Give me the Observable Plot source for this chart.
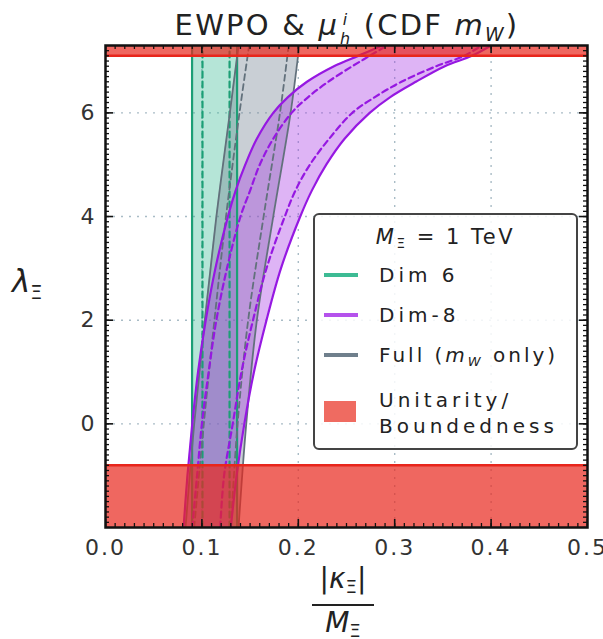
<!DOCTYPE html>
<html>
<head>
<meta charset="utf-8">
<script src="https://cdn.jsdelivr.net/npm/d3@7"></script>
<script src="https://cdn.jsdelivr.net/npm/@observablehq/plot@0.6"></script>
<style>
  body { margin: 0; background: #fff; font-family: "DejaVu Sans", sans-serif; }
  #wrap { position: relative; width: 603px; height: 639px; overflow: hidden; }
  #wrap svg { position: absolute; left: 0; top: 0; }
  .abs { position: absolute; white-space: nowrap; color: #222; }
  .title { left: 0; width: 694px; top: 11px; text-align: center; font-size: 29px; letter-spacing: 2.2px; line-height: 1; }
  .stack { display: inline-block; vertical-align: -0.55em; font-size: 0.55em; font-style: italic; line-height: 1.15; margin-left: 1px; }
  .stack span { display: block; }
  .ylab { left: 12px; top: 266px; font-size: 31px; line-height: 1; }
  .ylab sub { font-size: 0.62em; vertical-align: -0.35em; }
  .xlab { left: 312px; top: 565px; width: 62px; font-size: 28px; line-height: 1; text-align: center; }
  .frac-num { display: block; padding-bottom: 7px; }
  .frac-bar { display: block; border-top: 2.5px solid #222; }
  .frac-den { display: block; padding-top: 3px; }
  .legend { left: 313px; top: 213px; width: 261px; height: 233px; border: 2px solid #444; border-radius: 6px; background: rgba(255,255,255,0.85); }
  .lg { position: absolute; font-size: 20px; letter-spacing: 4px; line-height: 1; color: #222; }
  .sw { position: absolute; left: 9px; width: 34px; height: 0; border-top: 4px solid; }
  .patch { position: absolute; left: 9px; width: 32px; height: 21px; }
  sub { font-size: 0.65em; vertical-align: -0.3em; }
</style>
</head>
<body>
<div id="wrap"></div>
<script>
// ---- Data ----
// Dim-8 band: lambda grid and kappa/M at each boundary
const dim8Lambda      = [-2, -1, 0, 1, 2, 3, 4, 4.5, 5, 5.5, 6, 6.3, 6.6, 6.9, 7.1, 7.3];
const dim8LeftSolid   = [0.081, 0.085, 0.090, 0.096, 0.104, 0.114, 0.127, 0.135, 0.145, 0.157, 0.174, 0.189, 0.209, 0.237, 0.262, 0.287];
const dim8LeftDashed  = [0.090, 0.095, 0.100, 0.107, 0.115, 0.126, 0.140, 0.150, 0.160, 0.174, 0.193, 0.210, 0.231, 0.256, 0.274, 0.292];
const dim8RightDashed = [0.119, 0.123, 0.132, 0.141, 0.153, 0.167, 0.186, 0.197, 0.212, 0.232, 0.256, 0.279, 0.307, 0.343, 0.372, 0.390];
const dim8RightSolid  = [0.130, 0.136, 0.144, 0.154, 0.167, 0.182, 0.202, 0.214, 0.229, 0.248, 0.274, 0.295, 0.322, 0.352, 0.380, 0.400];

// Full (m_W only) band
const fullLambda      = [-2, 0, 2, 4, 6, 7.3];
const fullLeftSolid   = [0.083, 0.092, 0.103, 0.115, 0.129, 0.138];
const fullLeftDashed  = [0.092, 0.102, 0.113, 0.125, 0.139, 0.149];
const fullRightDashed = [0.130, 0.137, 0.148, 0.164, 0.181, 0.190];
const fullRightSolid  = [0.138, 0.146, 0.157, 0.174, 0.192, 0.201];

// Dim-6 band (independent of lambda)
const dim6Lambda      = [-2, 7.3];
const dim6LeftSolid   = [0.0898, 0.0898];
const dim6LeftDashed  = [0.1006, 0.1006];
const dim6RightDashed = [0.1287, 0.1287];
const dim6RightSolid  = [0.1365, 0.1365];

// Unitarity / boundedness limits on lambda
const lambdaMin = -0.8;
const lambdaMax = 7.1;

// Axes
const xDomain = [0, 0.5];
const yDomain = [-2, 7.3];
const xTicks = [0, 0.1, 0.2, 0.3, 0.4, 0.5];
const yTicks = [0, 2, 4, 6];

// ---- Build tables ----
const rows = (lam, ls, ld, rd, rs) => lam.map((l, i) => ({lam: l, ls: ls[i], ld: ld[i], rd: rd[i], rs: rs[i]}));
const dim8 = rows(dim8Lambda, dim8LeftSolid, dim8LeftDashed, dim8RightDashed, dim8RightSolid);
const full = rows(fullLambda, fullLeftSolid, fullLeftDashed, fullRightDashed, fullRightSolid);
const dim6 = rows(dim6Lambda, dim6LeftSolid, dim6LeftDashed, dim6RightDashed, dim6RightSolid);
const redBands = [{y1: yDomain[0], y2: lambdaMin}, {y1: lambdaMax, y2: yDomain[1]}];

const green = "#1c9f76", greenFill = "#2bb58c";
const gray = "#62717c", grayFill = "#708090";
const purple = "#9618e2", purpleFill = "#a93be6";
const red = "#e8261c";

const W = 603, H = 639, mL = 105, mR = 16, mT = 45, mB = 112;
const fw = W - mL - mR, fh = H - mT - mB;

const xMinor = d3.range(0, 0.5001, 0.01);
const yMinor = d3.range(-2, 7.3, 0.1);
const curve = "catmull-rom";

function bandMark(data, fillCol, fillOp) {
  return Plot.areaX(data, {y: "lam", x1: "ls", x2: "rs", fill: fillCol, fillOpacity: fillOp, curve});
}
function lineMarks(data, col, w) {
  return [
    Plot.lineX(data, {y: "lam", x: "ls", stroke: col, strokeWidth: w, curve}),
    Plot.lineX(data, {y: "lam", x: "rs", stroke: col, strokeWidth: w, curve}),
    Plot.lineX(data, {y: "lam", x: "ld", stroke: col, strokeWidth: w, strokeDasharray: "6,4", curve}),
    Plot.lineX(data, {y: "lam", x: "rd", stroke: col, strokeWidth: w, strokeDasharray: "6,4", curve})
  ];
}

const chart = Plot.plot({
  width: W, height: H,
  marginLeft: mL, marginRight: mR, marginTop: mT, marginBottom: mB,
  x: {domain: xDomain, label: null},
  y: {domain: yDomain, label: null},
  clip: true,
  style: {fontFamily: "DejaVu Sans", fontSize: "22px", color: "#222", background: "transparent", letterSpacing: "2px"},
  marks: [
    Plot.gridX([0.1, 0.2, 0.3, 0.4], {stroke: "#a9bcc6", strokeOpacity: 1, strokeWidth: 1.4, strokeDasharray: "2,6"}),
    Plot.gridY(yTicks, {stroke: "#a9bcc6", strokeOpacity: 1, strokeWidth: 1.4, strokeDasharray: "2,6"}),
    bandMark(dim6, greenFill, 0.35),
    bandMark(full, grayFill, 0.38),
    bandMark(dim8, purpleFill, 0.38),
    ...lineMarks(dim6, green, 2.2),
    ...lineMarks(full, gray, 1.8),
    ...lineMarks(dim8, purple, 2.2),
    Plot.rect(redBands, {y1: "y1", y2: "y2", fill: red, fillOpacity: 0.7}),
    Plot.ruleY([lambdaMin, lambdaMax], {stroke: red, strokeWidth: 2.5}),
    // inward ticks
    Plot.tickX(xMinor, {x: d => d, insetTop: fh - 4, stroke: "#111", strokeWidth: 1.3}),
    Plot.tickX(xMinor, {x: d => d, insetBottom: fh - 4, stroke: "#111", strokeWidth: 1.3}),
    Plot.tickX(xTicks, {x: d => d, insetTop: fh - 8, stroke: "#111", strokeWidth: 1.6}),
    Plot.tickX(xTicks, {x: d => d, insetBottom: fh - 8, stroke: "#111", strokeWidth: 1.6}),
    Plot.tickY(yMinor, {y: d => d, insetRight: fw - 4, stroke: "#111", strokeWidth: 1.3}),
    Plot.tickY(yMinor, {y: d => d, insetLeft: fw - 4, stroke: "#111", strokeWidth: 1.3}),
    Plot.tickY(yTicks, {y: d => d, insetRight: fw - 8, stroke: "#111", strokeWidth: 1.6}),
    Plot.tickY(yTicks, {y: d => d, insetLeft: fw - 8, stroke: "#111", strokeWidth: 1.6}),
    Plot.frame({stroke: "#111", strokeWidth: 2.5}),
    Plot.axisX(xTicks, {tickSize: 0, tickPadding: 12, tickFormat: d3.format(".1f"), fill: "#333", label: null}),
    Plot.axisY(yTicks, {tickSize: 0, tickPadding: 9, tickFormat: d => String(d), fill: "#333", label: null})
  ]
});

const wrap = document.getElementById("wrap");
wrap.appendChild(chart);

wrap.insertAdjacentHTML("beforeend", `
<div class="abs title">EWPO &amp; <i>μ</i><span class="stack"><span>i</span><span>h</span></span> (CDF <i>m</i><sub><i>W</i></sub>)</div>
<div class="abs ylab"><i>λ</i><sub>Ξ</sub></div>
<div class="abs xlab"><span class="frac-num">|<i>κ</i><sub>Ξ</sub>|</span><span class="frac-bar"></span><span class="frac-den"><i>M</i><sub>Ξ</sub></span></div>
<div class="abs legend">
  <div class="lg" style="left:0;width:261px;text-align:center;top:12px;letter-spacing:2.5px;font-size:21px;"><i>M</i><sub>Ξ</sub> = 1 TeV</div>
  <div class="sw" style="top:58px;border-color:#3dbb94;"></div>
  <div class="lg" style="left:64px;top:50px;">Dim 6</div>
  <div class="sw" style="top:98px;border-color:#b552ec;"></div>
  <div class="lg" style="left:64px;top:90px;">Dim-8</div>
  <div class="sw" style="top:138px;border-color:#6f7f8c;"></div>
  <div class="lg" style="left:64px;top:130px;letter-spacing:3px;">Full (<i>m</i><sub><i>W</i></sub> only)</div>
  <div class="patch" style="top:186px;background:#ef6b61;"></div>
  <div class="lg" style="left:64px;top:172px;line-height:1.3;">Unitarity/<br>Boundedness</div>
</div>
`);
</script>
</body>
</html>
